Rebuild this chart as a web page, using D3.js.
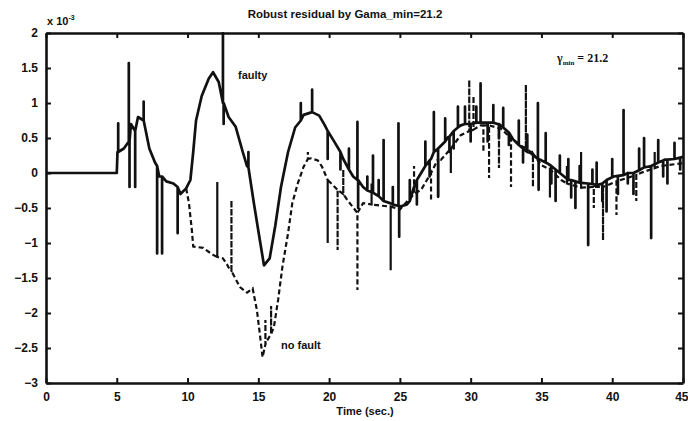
<!DOCTYPE html>
<html>
<head>
<meta charset="utf-8">
<script src="https://cdn.jsdelivr.net/npm/d3@7"></script>
<style>
  body { margin: 0; background: #fff; }
  text { font-family: "Liberation Sans", Arial, sans-serif; font-weight: bold; fill: #111; }
  text.gamma { font-family: "Liberation Serif", serif; }
</style>
</head>
<body>
<script>
// Robust residual plot (MATLAB style scan)

// Axis ticks
var xTicks = [0, 5, 10, 15, 20, 25, 30, 35, 40, 45];
var yTicks = [-3, -2.5, -2, -1.5, -1, -0.5, 0, 0.5, 1, 1.5, 2];

// Faulty residual (solid): [time, value x 1e-3]
var faultyBase = [[0,0],[5,0],[5.05,0.3],[5.5,0.35],[6,0.7],[6.5,0.8],[6.9,0.75],[7.3,0.35],[7.7,0.15],[8,-0.05],
  [8.5,-0.12],[9,-0.15],[9.5,-0.3],[9.9,-0.22],[10.2,-0.1],[10.4,0.3],[10.6,0.75],[11,1.1],[11.5,1.35],[11.8,1.44],
  [12.2,1.3],[12.5,1.0],[12.9,0.8],[13.4,0.66],[13.9,0.3],[14.2,0.1],[14.7,-0.45],[15.1,-0.95],[15.4,-1.32],[15.8,-1.22],
  [16.2,-0.75],[16.6,-0.2],[17.1,0.3],[17.6,0.65],[18.2,0.83],[18.8,0.87],[19.3,0.82],[19.7,0.68],[20.3,0.47],[21,0.2],
  [21.7,-0.05],[22.4,-0.2],[23.4,-0.32],[24.3,-0.43],[25,-0.48],[25.5,-0.45],[26,-0.2],[26.5,0.0],[27.2,0.2],[27.6,0.33],
  [28.4,0.51],[29.3,0.68],[30.7,0.72],[31.9,0.7],[33,0.48],[34.2,0.29],[35.4,0.14],[36.6,-0.05],[37.8,-0.14],[39,-0.17],
  [40.1,-0.05],[41.3,0.0],[42.5,0.09],[43.7,0.19],[45,0.23]];

// Faulty spikes: [time, foot, tip]
var faultySpikes = [[5.1,0.3,0.71],[5.85,0.45,1.57],[5.9,0.45,-0.2],[6.3,0.6,-0.2],[6.9,0.75,1.02],[7.85,0.1,-1.15],
  [8.2,-0.05,-1.15],[9.3,-0.2,-0.86],[12.5,1.0,2.0],[12.55,1.0,0.7],[14.3,0.08,0.3],[18.0,0.75,1.0],[18.8,0.87,1.19],
  [19.9,0.6,0.2],[20.8,0.3,0.05],[21.4,0.05,0.35],[22.0,-0.1,0.73],[22.05,-0.1,-0.5],[22.7,-0.25,-0.05],[23.1,-0.28,0.25],
  [23.5,-0.33,-0.1],[23.85,-0.4,0.47],[24.5,-0.45,-0.2],[24.9,-0.47,0.71],[24.95,-0.47,-0.91],[25.7,-0.4,-0.1],
  [26.2,-0.1,-0.45],[26.8,0.1,0.45],[27.1,0.18,-0.05],[27.4,0.3,0.87],[27.7,0.35,-0.34],[28.2,0.45,0.78],[28.5,0.52,0.3],
  [28.8,0.6,0.35],[29.1,0.65,0.95],[29.6,0.7,0.95],[30.0,0.7,0.45],[30.4,0.72,0.95],[30.7,0.72,1.28],[31.2,0.72,0.45],
  [31.6,0.72,0.97],[32.0,0.7,0.5],[32.3,0.65,0.93],[32.7,0.58,0.4],[33.4,0.4,0.75],[33.7,0.35,0.15],[34.0,0.3,0.55],
  [34.75,0.2,1.0],[34.8,0.2,-0.24],[35.3,0.15,0.57],[35.7,0.1,-0.15],[36.0,0.05,-0.4],[36.3,0.0,0.25],[36.9,-0.1,0.2],
  [37.1,-0.1,-0.35],[37.4,-0.12,-0.5],[37.7,-0.14,0.1],[38.3,-0.15,-1.03],[38.6,-0.16,0.05],[38.9,-0.17,0.15],
  [39.3,-0.15,-0.4],[39.6,-0.1,-0.55],[40.0,-0.06,0.2],[40.4,-0.04,-0.3],[40.8,-0.03,0.9],[41.1,0.0,-0.15],[41.5,0.0,-0.3],
  [41.9,0.04,0.35],[42.25,0.08,0.5],[42.75,0.1,-0.93],[43.25,0.15,0.47],[43.6,0.18,-0.05],[43.9,0.19,-0.15],[44.4,0.2,0.43],
  [44.8,0.22,0.05]];

// No-fault residual (dashed): [time, value x 1e-3]
var noFaultBase = [[9.9,-0.22],[10.1,-0.43],[10.3,-0.81],[10.4,-1.05],[11.1,-1.07],[11.8,-1.17],[12.5,-1.22],[12.8,-1.31],
  [13.0,-1.39],[13.7,-1.63],[14.2,-1.71],[14.6,-1.65],[14.9,-1.96],[15.1,-2.29],[15.3,-2.63],[15.6,-2.4],[16.1,-2.2],
  [16.4,-1.81],[16.7,-1.34],[17.1,-0.86],[17.4,-0.43],[17.8,-0.14],[18.2,0.09],[18.7,0.21],[19.2,0.18],[19.5,0.09],
  [19.9,-0.1],[20.6,-0.24],[21.3,-0.39],[22.0,-0.57],[22.4,-0.43],[23.4,-0.46],[24.3,-0.48],[25,-0.52],[26.5,-0.24],
  [27.9,0.19],[29.3,0.54],[30.7,0.68],[32.1,0.64],[33.5,0.4],[35,0.11],[36.4,-0.1],[37.8,-0.21],[39.2,-0.2],[40.6,-0.1],
  [42,0.0],[43.4,0.1],[45,0.14]];

// No-fault spikes: [time, foot, tip]
var noFaultSpikes = [[12.1,-1.2,-0.13],[13.1,-1.4,-0.39],[15.5,-2.45,-2.1],[15.9,-2.3,-1.9],[18.5,0.2,0.3],[19.9,-0.1,-1.0],
  [20.6,-0.24,-1.1],[21.0,-0.3,0.05],[22.0,-0.57,-1.67],[23.0,-0.45,-0.15],[24.35,-0.48,-1.39],[26.0,-0.3,0.1],
  [27.2,0.0,-0.4],[27.7,0.2,-0.34],[28.6,0.35,0.0],[29.9,0.6,1.33],[30.2,0.62,1.1],[30.9,0.68,0.3],[31.3,0.68,-0.07],
  [32.0,0.64,0.07],[32.85,0.5,-0.2],[33.9,0.35,1.26],[34.4,0.28,-0.2],[35.6,0.05,-0.35],[36.8,-0.15,0.1],
  [37.8,-0.21,0.3],[38.7,-0.2,-0.5],[39.35,-0.2,-0.96],[40.3,-0.12,-0.6],[41.7,-0.03,-0.4],[43.0,0.07,0.3]];

(function() {
  var width = 688,
      height = 421;
  var ink = "#111";

  var svg = d3.select("body")
      .append("svg")
      .attr("width", width)
      .attr("height", height);

  var x = d3.scaleLinear().domain([0, 45]).range([46, 683]);
  var y = d3.scaleLinear().domain([-3, 2]).range([383, 33]);

  // Merge base curve with vertical spikes
  function mergeSeries(base, spikes) {
    var pts = base.map(function(d) { return {t: d[0], v: d[1], k: 0}; });
    spikes.forEach(function(s) {
      pts.push({t: s[0], v: s[1], k: 1});
      pts.push({t: s[0], v: s[2], k: 2});
      pts.push({t: s[0], v: s[1], k: 3});
    });
    pts.sort(function(a, b) { return a.t - b.t || a.k - b.k; });
    return pts;
  }

  var line = d3.line()
      .x(function(d) { return x(d.t); })
      .y(function(d) { return y(d.v); });

  svg.append("defs").append("clipPath").attr("id", "plotClip")
    .append("rect")
      .attr("x", 46).attr("y", 32)
      .attr("width", 637).attr("height", 352);

  var plot = svg.append("g").attr("clip-path", "url(#plotClip)");

  // Dashed no-fault curve
  plot.append("path")
      .datum(mergeSeries(noFaultBase, noFaultSpikes))
      .attr("d", line)
      .attr("fill", "none")
      .attr("stroke", ink)
      .attr("stroke-width", 2.2)
      .attr("stroke-dasharray", "5,3");

  // Solid faulty curve
  plot.append("path")
      .datum(mergeSeries(faultyBase, faultySpikes))
      .attr("d", line)
      .attr("fill", "none")
      .attr("stroke", ink)
      .attr("stroke-width", 2.7)
      .attr("stroke-linejoin", "round");

  // Axes box with inward ticks on all sides
  var bottom = svg.append("g").attr("transform", "translate(0,383)")
      .call(d3.axisBottom(x).tickValues(xTicks).tickSizeInner(-5).tickSizeOuter(0).tickPadding(9).tickFormat(d3.format("d")));
  var top = svg.append("g").attr("transform", "translate(0,33)")
      .call(d3.axisTop(x).tickValues(xTicks).tickSizeInner(-5).tickSizeOuter(0).tickFormat(""));
  var left = svg.append("g").attr("transform", "translate(46,0)")
      .call(d3.axisLeft(y).tickValues(yTicks).tickSizeInner(-5).tickSizeOuter(0).tickPadding(8).tickFormat(d3.format("")));
  var right = svg.append("g").attr("transform", "translate(683,0)")
      .call(d3.axisRight(y).tickValues(yTicks).tickSizeInner(-5).tickSizeOuter(0).tickFormat(""));

  [bottom, top, left, right].forEach(function(g) {
    g.select(".domain").attr("stroke", ink).attr("stroke-width", 2.6);
    g.selectAll(".tick line").attr("stroke", ink).attr("stroke-width", 2);
    g.selectAll(".tick text").attr("font-size", 12).attr("font-family", null).attr("fill", ink);
  });

  // Last x label sits at the page edge; keep it inside
  bottom.selectAll(".tick text")
      .filter(function(d) { return d === 45; })
      .attr("text-anchor", "end")
      .attr("x", 5);

  // Title and labels
  svg.append("text")
      .attr("x", 345).attr("y", 18)
      .attr("text-anchor", "middle")
      .attr("font-size", 11.5)
      .text("Robust residual by Gama_min=21.2");

  var expo = svg.append("text")
      .attr("x", 47).attr("y", 25)
      .attr("font-size", 11);
  expo.append("tspan").text("x 10");
  expo.append("tspan").attr("dy", -5).attr("font-size", 7).text("-3");

  svg.append("text")
      .attr("x", 365).attr("y", 415)
      .attr("text-anchor", "middle")
      .attr("font-size", 11)
      .text("Time (sec.)");

  svg.append("text")
      .attr("x", 238).attr("y", 79)
      .attr("font-size", 11)
      .text("faulty");

  svg.append("text")
      .attr("x", 281).attr("y", 349)
      .attr("font-size", 11)
      .text("no fault");

  var gam = svg.append("text")
      .attr("class", "gamma")
      .attr("x", 557).attr("y", 62)
      .attr("font-size", 12);
  gam.append("tspan").text("γ");
  gam.append("tspan").attr("dy", 3).attr("font-size", 7).text("min");
  gam.append("tspan").attr("dy", -3).text(" = 21.2");
})();
</script>
</body>
</html>
